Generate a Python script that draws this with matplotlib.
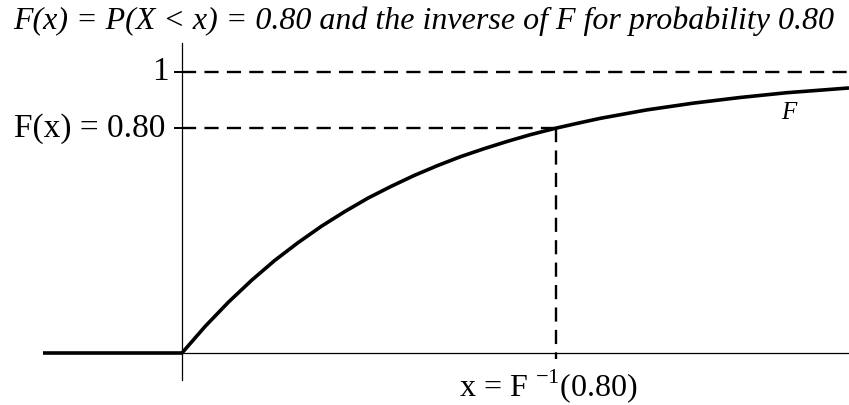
import matplotlib.pyplot as plt

plt.rcParams['font.family'] = ['Liberation Serif', 'DejaVu Serif']
plt.rcParams['mathtext.fontset'] = 'custom'
plt.rcParams['mathtext.rm'] = 'Liberation Serif'

# curve values (x in units where F(x0) = 0.80 at x0 ~ 1.61)
x_curve = [0.0, 0.1, 0.2, 0.3, 0.4, 0.5, 0.6, 0.7, 0.8, 0.9, 1.0, 1.1, 1.2, 1.3,
           1.4, 1.5, 1.609, 1.7, 1.8, 1.9, 2.0, 2.2, 2.4, 2.6, 2.87]
F_curve = [0.0, 0.095, 0.181, 0.259, 0.330, 0.393, 0.451, 0.503, 0.551, 0.593,
           0.632, 0.667, 0.699, 0.727, 0.753, 0.777, 0.80, 0.817, 0.835, 0.850,
           0.865, 0.889, 0.909, 0.926, 0.943]
x_left = [-0.6, 0.0]
F_left = [0.0, 0.0]

p = 0.80
x_p = 1.609

fig = plt.figure(figsize=(8.49, 4.05), dpi=100)
ax = fig.add_axes([0, 0, 1, 1])
ax.set_xlim(-0.783, 2.870)
ax.set_ylim(-0.185, 1.256)
ax.axis('off')

# axes
ax.plot([0, 0], [-0.096, 1.103], color='black', lw=0.9)
ax.plot([0, 2.87], [0, 0], color='black', lw=0.9)
ax.plot([-0.03, 0], [1, 1], color='black', lw=1.4)
ax.plot([-0.03, 0], [p, p], color='black', lw=1.4)

# dashed guides
dash = (0, (6, 3.5))
ax.plot([0, 2.87], [1, 1], color='black', lw=1.7, linestyle=dash)
ax.plot([0, x_p], [p, p], color='black', lw=1.7, linestyle=dash)
ax.plot([x_p, x_p], [p, -0.02], color='black', lw=1.7, linestyle=dash)

# CDF curve
ax.plot(x_left, F_left, color='black', lw=2.6, solid_capstyle='butt')
ax.plot(x_curve, F_curve, color='black', lw=2.6, solid_capstyle='butt')

ax.text(-0.055, 1.0, '1', ha='right', va='center', fontsize=24)
ax.text(-0.07, p, 'F(x) = 0.80', ha='right', va='center', fontsize=24)
ax.text(2.61, 0.855, 'F', ha='center', va='center', fontsize=18, style='italic')
ax.text(1.575, -0.152, r'x = F $^{\mathrm{-1}}$(0.80)', ha='center', va='baseline',
        fontsize=23)

ax.text(1.04, 1.18, 'F(x) = P(X < x) = 0.80 and the inverse of F for probability 0.80',
        ha='center', va='center', fontsize=23, style='italic')

fig.savefig('out.png', dpi=100)
